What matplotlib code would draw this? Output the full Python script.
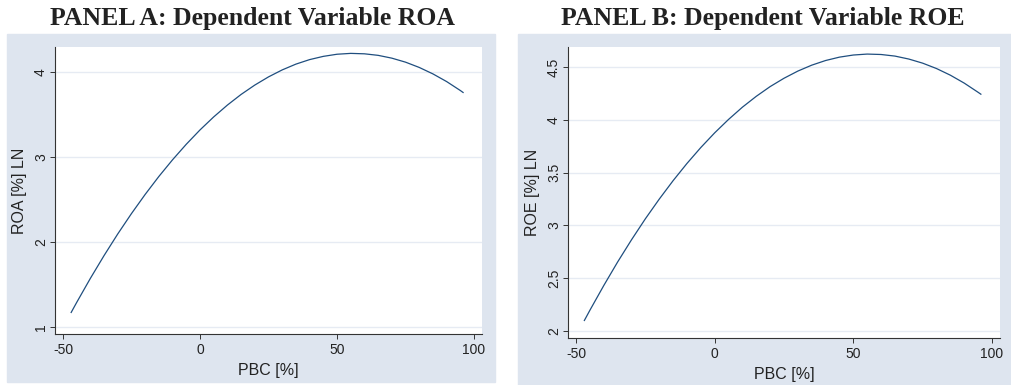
import matplotlib.pyplot as plt
from matplotlib.patches import Rectangle

# predicted values (PBC in %, fitted log ratios)
pbc = [-47, -45, -40, -35, -30, -25, -20, -15, -10, -5, 0, 5, 10, 15, 20,
       25, 30, 35, 40, 45, 50, 55, 60, 65, 70, 75, 80, 85, 90, 95, 96]
roa = [1.173, 1.290, 1.573, 1.841, 2.095, 2.334, 2.559, 2.770, 2.966, 3.148,
       3.316, 3.469, 3.608, 3.733, 3.843, 3.939, 4.021, 4.089, 4.142, 4.180,
       4.205, 4.215, 4.210, 4.192, 4.159, 4.112, 4.050, 3.974, 3.884, 3.779,
       3.756]
roe = [2.100, 2.197, 2.431, 2.654, 2.864, 3.063, 3.249, 3.424, 3.587, 3.738,
       3.877, 4.004, 4.120, 4.223, 4.315, 4.394, 4.462, 4.518, 4.562, 4.594,
       4.614, 4.623, 4.619, 4.604, 4.576, 4.537, 4.486, 4.423, 4.348, 4.261,
       4.243]

roa_ticks = [1, 2, 3, 4]
roe_ticks = [2, 2.5, 3, 3.5, 4, 4.5]
roe_labels = ["2", "2.5", "3", "3.5", "4", "4.5"]
x_ticks = [-50, 0, 50, 100]

bg = "#dee5ef"
grid = "#e6ebf3"
navy = "#1f4e7f"

plt.rcParams['font.family'] = ['Liberation Sans', 'DejaVu Sans']

fig = plt.figure(figsize=(10.11, 3.85), dpi=100)
W, H = 1011, 385

# graph region backgrounds (pixel boxes)
for x0, y0, x1, y1 in [(7, 34, 495, 382), (518, 34, 1011, 385)]:
    r = Rectangle((x0 / W, 1 - y1 / H), (x1 - x0) / W, (y1 - y0) / H,
                  transform=fig.transFigure, color=bg, zorder=-10)
    fig.add_artist(r)

panels = [
    ("PANEL A: Dependent Variable ROA", roa, "ROA [%] LN", roa_ticks,
     [str(t) for t in roa_ticks], (0.92, 4.29), (55, 47, 482, 334), 253),
    ("PANEL B: Dependent Variable ROE", roe, "ROE [%] LN", roe_ticks,
     roe_labels, (1.934, 4.69), (568, 47, 1000, 338), 763),
]

for title, ys, ylab, yt, ytl, ylim, box, tx in panels:
    x0, y0, x1, y1 = box
    ax = fig.add_axes([x0 / W, 1 - y1 / H, (x1 - x0) / W, (y1 - y0) / H])
    ax.set_facecolor("white")
    ax.plot(pbc, ys, color=navy, lw=0.9)
    ax.set_xlim(-52.9, 102.9)
    ax.set_ylim(*ylim)
    ax.set_xticks(x_ticks)
    ax.set_xticklabels([str(t) for t in x_ticks])
    ax.set_yticks(yt)
    ax.set_yticklabels(ytl, rotation=90, va="center")
    ax.grid(axis="y", color=grid, lw=1.0)
    ax.set_axisbelow(True)
    for s in ["top", "right"]:
        ax.spines[s].set_visible(False)
    for s in ["left", "bottom"]:
        ax.spines[s].set_color("#333333")
        ax.spines[s].set_linewidth(0.8)
    ax.tick_params(length=3.6, width=0.7, color="#333333", labelsize=10,
                   labelcolor="#222222", pad=3)
    ax.tick_params(axis="y", pad=1.5)
    ax.set_xlabel("PBC [%]", fontsize=11.5, color="#222222", labelpad=4)
    ax.set_ylabel(ylab, fontsize=11.5, color="#222222", labelpad=5)
    fig.text(tx / W, 1 - 18 / H, title, ha="center", va="center",
             fontsize=18.5, fontweight="bold", family="Liberation Serif",
             color="#222222")

fig.savefig("out.png", dpi=100)
